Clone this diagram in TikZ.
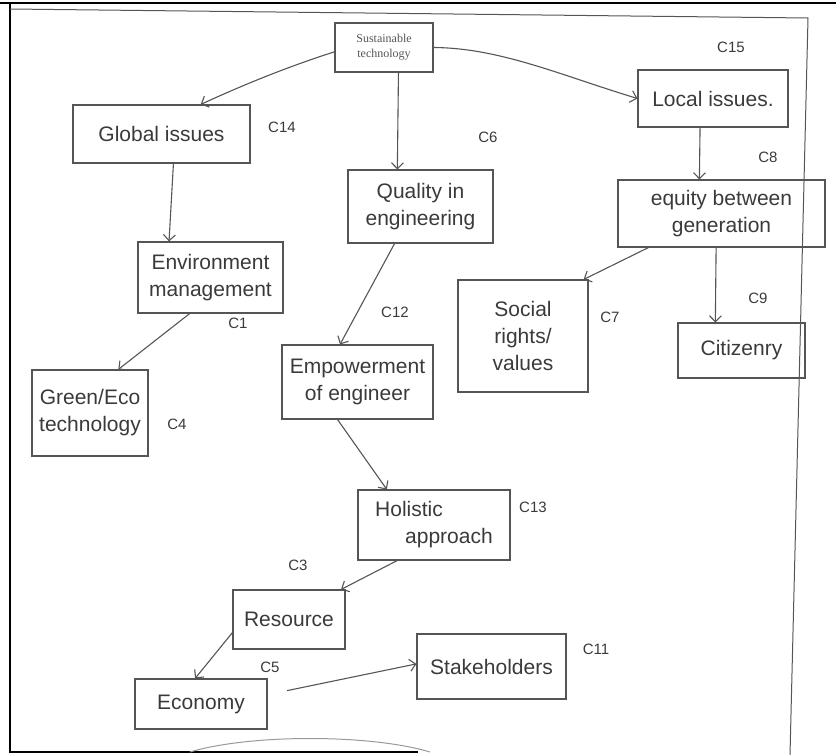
\documentclass[tikz,border=0pt]{standalone}
\usepackage{fontspec}
\setmainfont{Liberation Sans}
\newfontfamily\printfont{Liberation Serif}
\usetikzlibrary{arrows.meta}
\definecolor{pencil}{HTML}{555555}
\definecolor{ink}{HTML}{3A3A3A}

\begin{document}
\begin{tikzpicture}[x=1pt,y=-1pt,>={Straight Barb[length=6pt,width=12pt]}]
  \useasboundingbox (0,0) rectangle (836,755);

  \draw[line width=2pt] (0,3) -- (836,3);
  \draw[line width=2pt] (10,3) -- (10,752) -- (418,752);
  \draw[pencil, line width=1pt] (10,9) -- (808,18) -- (790,755);
  \draw[pencil!60, line width=1pt] (190,752) .. controls (250,734) and (370,734) .. (430,752);

  \tikzset{concept/.style={draw=pencil, line width=1.1pt, text=ink, align=center,
      inner sep=2pt, font=\fontsize{21}{27}\selectfont},
    code/.style={text=ink, inner sep=1pt, font=\fontsize{15}{15}\selectfont},
    link/.style={pencil, line width=1.1pt, ->}}

  \node[concept, minimum width=98, minimum height=49, text=pencil,
    font=\printfont\fontsize{12}{15}\selectfont] (sust) at (384,47.5) {Sustainable\\technology};
  \node[concept, minimum width=177, minimum height=58] (global) at (161.5,134) {Global issues};
  \node[concept, minimum width=150, minimum height=57] (local) at (713,98.5) {Local issues.};
  \node[concept, minimum width=145, minimum height=73] (quality) at (420.5,206.5) {Quality in\\engineering};
  \node[concept, minimum width=207, minimum height=67] (equity) at (721.5,213.5) {equity between\\generation};
  \node[concept, minimum width=145, minimum height=71] (env) at (210.5,277.5) {Environment\\management};
  \node[concept, minimum width=151, minimum height=74] (emp) at (357.5,382) {Empowerment\\of engineer};
  \node[concept, minimum width=130, minimum height=112] (social) at (523,336) {Social\\rights/\\values};
  \node[concept, minimum width=127, minimum height=55] (citizen) at (741.5,350.5) {Citizenry};
  \node[concept, minimum width=116, minimum height=86] (green) at (90,413) {Green/Eco\\technology};
  \node[concept, minimum width=152, minimum height=70, align=left] (holistic) at (434,525) {Holistic\\\hspace{30pt}approach};
  \node[concept, minimum width=112, minimum height=59] (resource) at (289,619.5) {Resource};
  \node[concept, minimum width=132, minimum height=50] (economy) at (201,704) {Economy};
  \node[concept, minimum width=149, minimum height=65] (stake) at (491.5,666.5) {Stakeholders};

  \node[code] (c15) at (731,47) {C15};
  \node[code] (c14) at (282,127) {C14};
  \node[code] (c6) at (488,137) {C6};
  \node[code] (c8) at (768,157) {C8};
  \node[code] (c1) at (238,323) {C1};
  \node[code] (c12) at (395,312) {C12};
  \node[code] (c7) at (610,317) {C7};
  \node[code] (c9) at (758,298) {C9};
  \node[code] (c4) at (177,424) {C4};
  \node[code] (c13) at (533,507) {C13};
  \node[code] (c3) at (298,565) {C3};
  \node[code] (c5) at (270,667) {C5};
  \node[code] (c11) at (596,649) {C11};

  \draw[link] (sust.185) .. controls (290,66) and (245,84) .. (global.37);
  \draw[link] (sust.east) .. controls (500,48) and (560,75) .. (local.west);
  \draw[link] (sust.-60) -- (quality.122);
  \draw[link] (global.-68) -- (env.139);
  \draw[link] (env.-120) -- (green.57);
  \draw[link] (quality.-125) -- (emp.115);
  \draw[link] (local.-114) -- (equity.123);
  \draw[link] (equity.-155) -- (social.43);
  \draw[link] (equity.-99) -- (citizen.133);
  \draw[link] (emp.-118) -- (holistic.143);
  \draw[link] (holistic.-136) -- (resource.30);
  \draw[link] (resource.193) -- (economy.103);
  \draw[link, shorten <=20pt] (economy.8) -- (stake.178);
\end{tikzpicture}
\end{document}
